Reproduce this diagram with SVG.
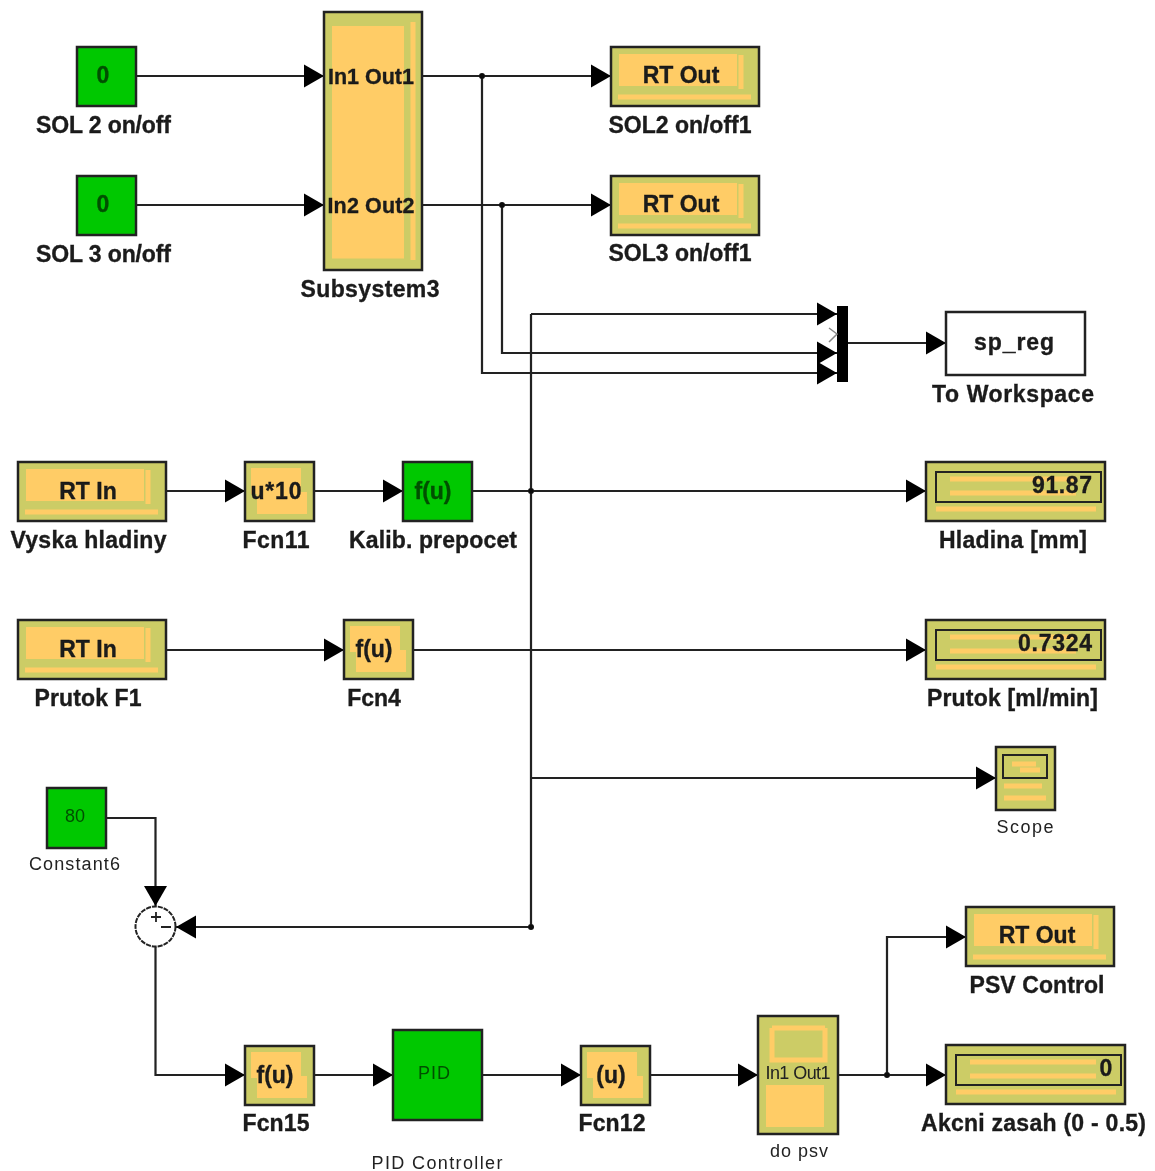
<svg xmlns="http://www.w3.org/2000/svg" width="1155" height="1171" viewBox="0 0 1155 1171">
<style>
.g{fill:#00c800;stroke:#222;stroke-width:2.5}
.y{fill:#cccc66;stroke:#222;stroke-width:2.5}
.o{fill:#ffcc66}
.s{fill:none;stroke:#ffcc66;stroke-width:5}
.b{font-family:"Liberation Sans",Arial,sans-serif;font-weight:700;font-size:23px;fill:#1a1a1a;text-anchor:middle;stroke:#1a1a1a;stroke-width:.35}
.d{fill:#064f06;stroke:#064f06}
.n{font-size:21.500px}
.t{font-family:"Liberation Sans",Arial,sans-serif;font-size:18px;fill:#222;text-anchor:middle}
.c path{fill:none;stroke:#222;stroke-width:2.2}
.c circle{fill:#111}
</style>
<defs>
<marker id="a" markerUnits="userSpaceOnUse" markerWidth="24" markerHeight="26" refX="20" refY="13" orient="auto"><path d="M0 1.500L20 13L0 24.500Z" fill="#000"/></marker>
<filter id="f" x="-2%" y="-2%" width="104%" height="104%"><feGaussianBlur stdDeviation="0.6"/></filter>
<g id="rt"><rect class="y" width="148" height="59"/><rect class="o" x="8" y="7" width="118" height="32"/><path class="s" d="M7 50H140M130 8V42"/></g>
<g id="fn"><rect class="y" width="69" height="59"/><rect class="o" x="6" y="6" width="50" height="26"/><rect class="o" x="12" y="30" width="50" height="22"/></g>
<g id="dsp"><rect class="y" width="179" height="59"/><path class="s" d="M10 47H170M24 17H150M24 31H150"/><rect width="165" height="30" x="10" y="10" fill="none" stroke="#222" stroke-width="2"/></g>
</defs>
<rect width="1155" height="1171" fill="#fff"/>
<g filter="url(#f)">
<g class="c" id="connectors">
<path marker-end="url(#a)" d="M136 76H324"/>
<path marker-end="url(#a)" d="M136 205H324"/>
<path marker-end="url(#a)" d="M422 76H611"/>
<path marker-end="url(#a)" d="M422 205H611"/>
<path marker-end="url(#a)" d="M482 76V373H837"/>
<path marker-end="url(#a)" d="M502 205V353H837"/>
<path marker-end="url(#a)" d="M531 314H837"/>
<path marker-end="url(#a)" d="M531 314V927H176"/>
<path marker-end="url(#a)" d="M848 343H946"/>
<path marker-end="url(#a)" d="M166 491H245"/>
<path marker-end="url(#a)" d="M314 491H403"/>
<path marker-end="url(#a)" d="M472 491H926"/>
<path marker-end="url(#a)" d="M166 650H344"/>
<path marker-end="url(#a)" d="M413 650H926"/>
<path marker-end="url(#a)" d="M531 778H996"/>
<path marker-end="url(#a)" d="M106 818H155.500V906"/>
<path marker-end="url(#a)" d="M155.500 947V1075H245"/>
<path marker-end="url(#a)" d="M314 1075H393"/>
<path marker-end="url(#a)" d="M482 1075H581"/>
<path marker-end="url(#a)" d="M650 1075H758"/>
<path marker-end="url(#a)" d="M838 1075H946"/>
<path marker-end="url(#a)" d="M887 1075V937H966"/>
<circle cx="482" cy="76" r="3"/><circle cx="502" cy="205" r="3"/><circle cx="531" cy="491" r="3"/><circle cx="531" cy="927" r="3"/><circle cx="887" cy="1075" r="3"/>
</g>
<g id="sol2"><rect class="g" x="77" y="47" width="59" height="59"/><text class="b d" x="103" y="83">0</text><text class="b" x="103.500" y="133" textLength="135">SOL 2 on/off</text></g>
<g id="sol3"><rect class="g" x="77" y="176" width="59" height="59"/><text class="b d" x="103" y="212">0</text><text class="b" x="103.500" y="262" textLength="135">SOL 3 on/off</text></g>
<g id="subsystem3"><rect class="y" x="324" y="12" width="98" height="258"/><rect class="o" x="332" y="26" width="72" height="230"/><path class="s" d="M332 256H404M413 22V260" stroke-width="3"/><text class="b n" x="371" y="84" textLength="86">In1 Out1</text><text class="b n" x="371" y="213" textLength="87">In2 Out2</text><text class="b" x="370" y="297" textLength="139">Subsystem3</text></g>
<g id="rtout1"><use href="#rt" x="611" y="47"/><text class="b" x="681" y="83">RT Out</text><text class="b" x="680" y="133" textLength="143">SOL2 on/off1</text></g>
<g id="rtout2"><use href="#rt" x="611" y="176"/><text class="b" x="681" y="212">RT Out</text><text class="b" x="680" y="261" textLength="143">SOL3 on/off1</text></g>
<g id="mux"><rect x="837" y="306" width="11" height="76" fill="#000"/><path d="M829 328L837 334L829 342" fill="none" stroke="#888" stroke-width="1.500"/></g>
<g id="toworkspace"><rect x="946" y="312" width="139" height="63" fill="#fff" stroke="#222" stroke-width="2.500"/><text class="b" x="1014" y="350" textLength="80">sp_reg</text><text class="b" x="1013" y="402" textLength="162">To Workspace</text></g>
<g id="vyska"><use href="#rt" x="18" y="462"/><text class="b" x="88" y="499">RT In</text><text class="b" x="88.500" y="548" textLength="156">Vyska hladiny</text></g>
<g id="fcn11"><use href="#fn" x="245" y="462"/><text class="b" x="276" y="499" textLength="51">u*10</text><text class="b" x="276" y="548" textLength="67">Fcn11</text></g>
<g id="kalib"><rect class="g" x="403" y="462" width="69" height="59"/><text class="b d" x="433" y="499">f(u)</text><text class="b" x="433" y="548" textLength="168">Kalib. prepocet</text></g>
<g id="hladina"><use href="#dsp" x="926" y="462"/><text class="b" x="1062" y="493" textLength="60">91.87</text><text class="b" x="1013" y="548" textLength="148">Hladina [mm]</text></g>
<g id="prutokf1"><use href="#rt" x="18" y="620"/><text class="b" x="88" y="657">RT In</text><text class="b" x="88" y="706" textLength="107">Prutok F1</text></g>
<g id="fcn4"><use href="#fn" x="344" y="620"/><text class="b" x="374" y="657">f(u)</text><text class="b" x="374" y="706">Fcn4</text></g>
<g id="prutok"><use href="#dsp" x="926" y="620"/><text class="b" x="1055" y="651" textLength="74">0.7324</text><text class="b" x="1012.500" y="706" textLength="171">Prutok [ml/min]</text></g>
<g id="scope"><rect class="y" x="996" y="747" width="59" height="63"/><path class="s" d="M1004 786H1042M1004 798H1046M1012 764H1036M1020 770H1040" stroke-width="4"/><rect x="1003" y="755" width="44" height="23" fill="none" stroke="#222" stroke-width="2"/><text class="t" x="1025" y="833" textLength="57">Scope</text></g>
<g id="constant6"><rect class="g" x="47" y="788" width="59" height="60"/><text class="t" x="75" y="822" fill="#064f06" style="fill:#064f06">80</text><text class="t" x="74.500" y="870" textLength="91">Constant6</text></g>
<g id="sum"><circle cx="155.500" cy="926.500" r="20" fill="#fff" stroke="#222" stroke-width="2" stroke-dasharray="5 1"/><path d="M151 917H161M156 912V922M161 927H171" stroke="#222" stroke-width="1.800" fill="none"/></g>
<g id="fcn15"><use href="#fn" x="245" y="1046"/><text class="b" x="275" y="1083">f(u)</text><text class="b" x="276" y="1131" textLength="67">Fcn15</text></g>
<g id="pid"><rect class="g" x="393" y="1030" width="89" height="90"/><text class="t" x="434" y="1079" textLength="32" style="fill:#064f06">PID</text><text class="t" x="437" y="1169" textLength="131">PID Controller</text></g>
<g id="fcn12"><use href="#fn" x="581" y="1046"/><text class="b" x="611" y="1083">(u)</text><text class="b" x="612" y="1131" textLength="67">Fcn12</text></g>
<g id="dopsv"><rect class="y" x="758" y="1016" width="80" height="118"/><rect class="o" x="766" y="1085" width="58" height="42"/><path class="s" d="M772 1028H825M772 1028V1060H825V1028" stroke-width="4"/><text class="t" x="798" y="1079" textLength="65">In1 Out1</text><text class="t" x="799" y="1157" textLength="58">do psv</text></g>
<g id="psv"><use href="#rt" x="966" y="907"/><text class="b" x="1037" y="943">RT Out</text><text class="b" x="1037" y="993" textLength="135">PSV Control</text></g>
<g id="akcni"><use href="#dsp" x="946" y="1045"/><text class="b" x="1106" y="1076">0</text><text class="b" x="1033.500" y="1131" textLength="225">Akcni zasah (0 - 0.5)</text></g>
</g>
</svg>
